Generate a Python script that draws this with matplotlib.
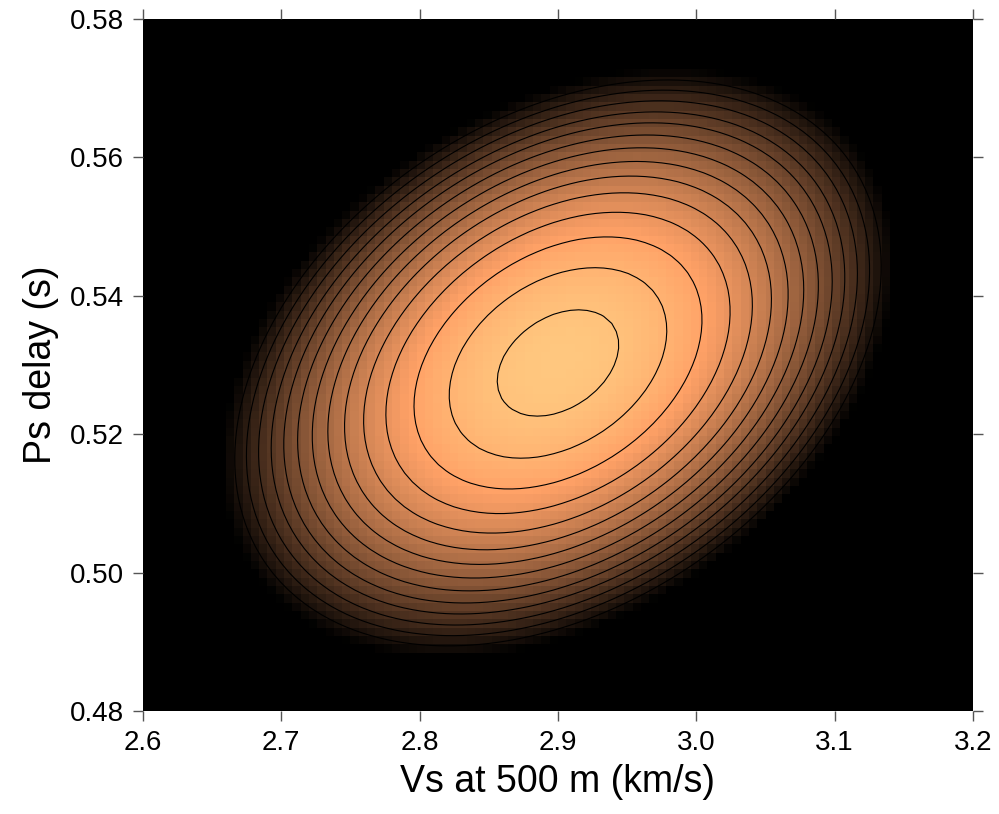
import numpy as np
import matplotlib
matplotlib.use('Agg')
import matplotlib.pyplot as plt

plt.rcParams['font.family'] = ['Liberation Sans', 'DejaVu Sans']

# grid of the misfit image (cell counts)
vs_range = [2.6, 3.2]
delay_range = [0.48, 0.58]
n_vs = 100
n_delay = 83

# ellipse: centre, 1-level half widths, tilt
vs_center = 2.900
delay_center = 0.5303
vs_sigma = 0.044
delay_sigma = 0.0077
rho = 0.34

# contour levels of the misfit and where the colour runs out to black
levels = [1.0, 3.2, 5.6, 8.0, 10.2, 12.3, 14.3, 16.3, 18.3, 20.3, 22.2, 24.2, 26.2, 28.2]
q_cut = 30.5

x_ticks = [2.6, 2.7, 2.8, 2.9, 3.0, 3.1, 3.2]
y_ticks = [0.48, 0.50, 0.52, 0.54, 0.56, 0.58]


def misfit(vs, delay):
    dx = (vs - vs_center) / vs_sigma
    dy = (delay - delay_center) / delay_sigma
    return (dx**2 - 2 * rho * dx * dy + dy**2) / (1 - rho**2)


vs_edges = np.linspace(vs_range[0], vs_range[1], n_vs + 1)
delay_edges = np.linspace(delay_range[0], delay_range[1], n_delay + 1)
vs_mid = (vs_edges[:-1] + vs_edges[1:]) / 2
delay_mid = (delay_edges[:-1] + delay_edges[1:]) / 2
VS, DL = np.meshgrid(vs_mid, delay_mid)
q = misfit(VS, DL)
shade = np.clip(1 - q / q_cut, 0, 1)

fig = plt.figure(figsize=(9.99, 8.14), dpi=100)
ax = fig.add_axes([0.1431, 0.1265, 0.8309, 0.8502])

ax.pcolormesh(vs_edges, delay_edges, shade, cmap='copper', vmin=0, vmax=1,
              shading='flat')
ax.contour(VS, DL, q, levels=levels, colors='black', linewidths=0.8)

ax.set_xlim(vs_range)
ax.set_ylim(delay_range)
ax.set_xticks(x_ticks)
ax.set_yticks(y_ticks)
ax.set_xticklabels(['%.1f' % t for t in x_ticks])
ax.set_yticklabels(['%.2f' % t for t in y_ticks])

ax.tick_params(direction='out', length=7.5, width=1, color='#555555',
               labelsize=20, pad=6, top=True, right=True)
for s in ax.spines.values():
    s.set_visible(False)

ax.set_xlabel('Vs at 500 m (km/s)', fontsize=27, labelpad=6)
ax.set_ylabel('Ps delay (s)', fontsize=27, labelpad=8)

fig.savefig('out.png', dpi=100)
